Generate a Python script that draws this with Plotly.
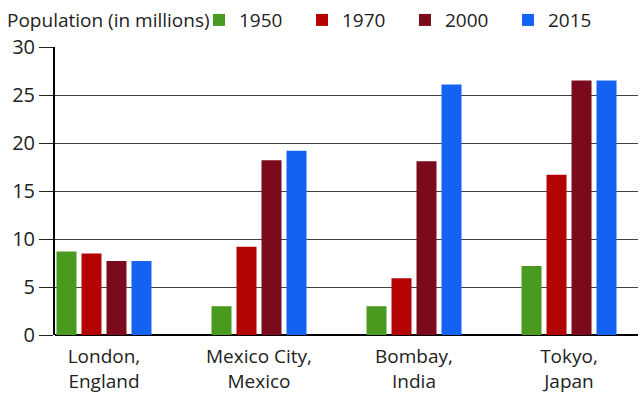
import plotly.graph_objects as go

cities = ["London,<br>England", "Mexico City,<br>Mexico", "Bombay,<br>India", "Tokyo,<br>Japan"]
years = ["1950", "1970", "2000", "2015"]
pop_1950 = [8.7, 3.0, 3.0, 7.2]
pop_1970 = [8.5, 9.2, 5.9, 16.7]
pop_2000 = [7.7, 18.2, 18.1, 26.5]
pop_2015 = [7.7, 19.2, 26.1, 26.5]
colors = ["#4a9a1f", "#b30303", "#7b0a1c", "#1462f2"]
legend_title = "Population (in millions)"

font_family = "Open Sans, Noto Sans, sans-serif"

fig = go.Figure()
for yr, vals, col in zip(years, [pop_1950, pop_1970, pop_2000, pop_2015], colors):
    fig.add_trace(go.Bar(x=list(range(len(cities))), y=vals, name=yr, marker=dict(color=col, line=dict(width=0))))

fig.add_annotation(
    text=legend_title, xref="paper", yref="paper", x=-0.086, y=1.094,
    xanchor="left", yanchor="middle", showarrow=False,
    font=dict(size=19, color="#222"),
)

fig.update_layout(
    width=642, height=394,
    margin=dict(l=55, r=4, t=47, b=59),
    paper_bgcolor="white", plot_bgcolor="white",
    barmode="group", bargap=0.355, bargroupgap=0.2,
    font=dict(family=font_family, color="#222", size=18),
    showlegend=True,
    legend=dict(
        orientation="h", x=0.247, xanchor="left",
        yref="container", y=0.949, yanchor="middle",
        font=dict(size=19, color="#222"),
        entrywidth=58, entrywidthmode="pixels",
        itemwidth=30, tracegroupgap=0,
        bgcolor="rgba(0,0,0,0)",
    ),
    xaxis=dict(
        tickmode="array", tickvals=list(range(len(cities))), ticktext=cities,
        range=[-0.316, 3.445], showgrid=False, zeroline=False,
        showline=False, ticks="", tickfont=dict(size=19, color="#222"),
        ticklabelstandoff=8, automargin=False,
    ),
    yaxis=dict(
        range=[0, 30], dtick=5, showgrid=True, gridcolor="#444", gridwidth=1,
        showline=True, linecolor="black", linewidth=2,
        ticks="outside", ticklen=14, tickcolor="#222", tickwidth=1,
        zeroline=True, zerolinecolor="black", zerolinewidth=2,
        tickfont=dict(size=20, color="#222"), automargin=False,
    ),
)

fig.write_html("out.html")
